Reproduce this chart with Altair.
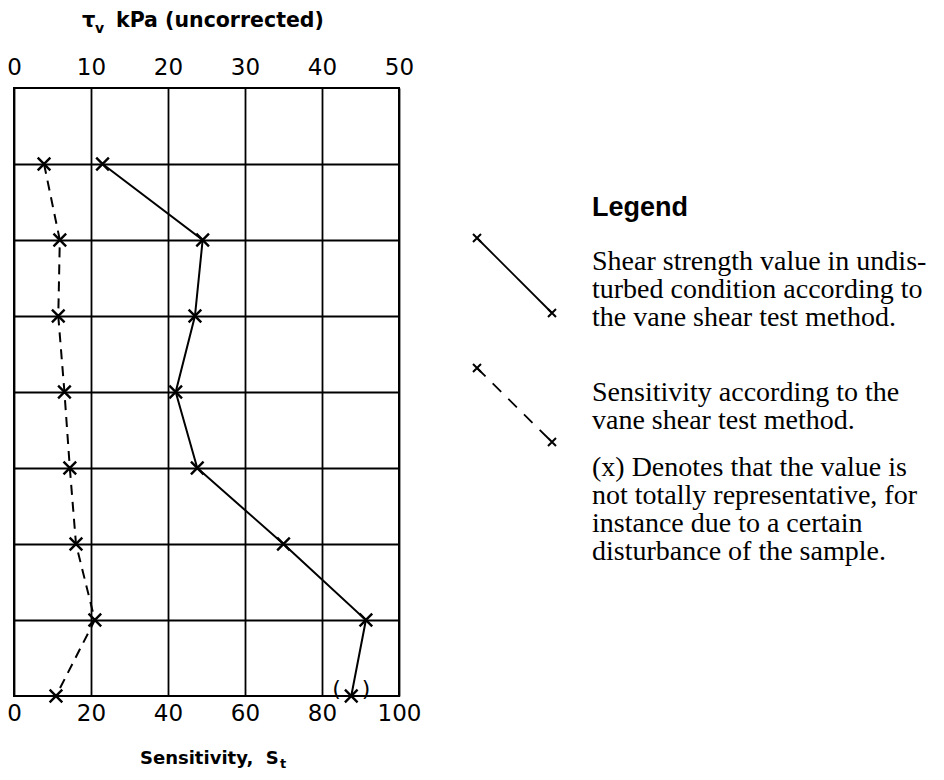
import altair as alt
import pandas as pd

# ---- data ----
depth = [1, 2, 3, 4, 5, 6, 7, 8]
shear_kpa = [11.5, 24.5, 23.5, 21.0, 23.8, 35.0, 45.7, 43.8]
sensitivity = [7.8, 11.9, 11.5, 13.1, 14.5, 16.1, 21.0, 10.9]
not_representative = [False, False, False, False, False, False, False, True]
kpa_ticks = [0, 10, 20, 30, 40, 50]
st_ticks = [0, 20, 40, 60, 80, 100]
row_lines = [1, 2, 3, 4, 5, 6, 7]

legend_title = "Legend"
legend_para1 = ["Shear strength value in undis-", "turbed condition according to", "the vane shear test method."]
legend_para2 = ["Sensitivity according to the", "vane shear test method."]
legend_para3 = ["(x) Denotes that the value is", "not totally representative, for",
                "instance due to a certain", "disturbance of the sample."]

W, H = 385, 608
OX, OY = 14, 88  # plot origin in page pixels

def px(x):
    return x - OX

def py(y):
    return y - OY

df = pd.DataFrame({"depth": depth, "kpa": shear_kpa, "st": sensitivity, "flag": not_representative})

CROSS = "M-1,-1L1,1M-1,1L1,-1"
SANS = "DejaVu Sans"
SERIF = "Liberation Serif"
NB = "\u00a0"

yscale = alt.Scale(domain=[0, 8], reverse=True, nice=False)
yaxis = alt.Axis(values=row_lines, grid=True, gridColor="black", gridWidth=1.8, gridOpacity=1,
                 labels=False, ticks=False, domain=False, title=None)

xk = alt.X("kpa:Q", scale=alt.Scale(domain=[0, 50], nice=False),
           axis=alt.Axis(orient="top", values=kpa_ticks, grid=True, gridColor="black", gridWidth=1.8,
                         gridOpacity=1, ticks=False, tickSize=0, domain=False, labelFont=SANS,
                         labelFontSize=23, labelColor="black", labelPadding=9, title=None,
                         labelFlush=False))
xs = alt.X("st:Q", scale=alt.Scale(domain=[0, 100], nice=False),
           axis=alt.Axis(orient="bottom", values=st_ticks, grid=False, ticks=False, tickSize=0,
                         domain=False, labelFont=SANS, labelFontSize=23, labelColor="black",
                         labelPadding=6, title=None, labelFlush=False))
y = alt.Y("depth:Q", scale=yscale, axis=yaxis)
order = alt.Order("depth:Q")

base = alt.Chart(df)

shear_line = base.mark_line(color="black", strokeWidth=2).encode(x=xk, y=y, order=order)
shear_pts = base.mark_point(shape=CROSS, size=160, stroke="black", strokeWidth=2.4,
                            filled=False, opacity=1).encode(x=xk, y=y)
paren = base.mark_text(text="(" + NB * 3 + ")", font=SANS, fontSize=22, color="black", dy=-7).encode(
    x=xk, y=y).transform_filter("datum.flag")

kpa_layer = alt.layer(shear_line, shear_pts, paren)

st_line = base.mark_line(color="black", strokeWidth=2, strokeDash=[10, 7]).encode(x=xs, y=y, order=order)
st_pts = base.mark_point(shape=CROSS, size=160, stroke="black", strokeWidth=2.4,
                         filled=False, opacity=1).encode(x=xs, y=y)
st_layer = alt.layer(st_line, st_pts)

# ---- annotations (titles, legend) ----
ann = []
def text(t, x, y, size, font=SANS, weight="bold", align="left", lh=None):
    kw = dict(text=t, font=font, fontSize=size, fontWeight=weight, align=align,
              baseline="alphabetic", color="black")
    if lh:
        kw["lineHeight"] = lh
    return alt.Chart(df).mark_text(**kw).encode(x=alt.value(px(x)), y=alt.value(py(y))).transform_filter("datum.depth == 1")

ann.append(text("τ", 82, 27, 21))
ann.append(text("v", 95, 33, 14))
ann.append(text("kPa (uncorrected)", 116, 27, 20.5))
ann.append(text("Sensitivity," + NB + NB + "S", 140, 764, 18))
ann.append(text("t", 280, 768, 13))
ann.append(text(legend_title, 592, 216, 27, font="Liberation Sans"))
ann.append(text(legend_para1, 592, 270, 28, font=SERIF, weight="normal", lh=28))
ann.append(text(legend_para2, 592, 401, 28, font=SERIF, weight="normal", lh=28))
ann.append(text(legend_para3, 592, 476, 28, font=SERIF, weight="normal", lh=28))

def seg(x1, y1, x2, y2, dash=None):
    kw = dict(color="black", strokeWidth=1.8)
    if dash:
        kw["strokeDash"] = dash
    return alt.Chart(df).mark_rule(**kw).encode(
        x=alt.value(px(x1)), y=alt.value(py(y1)), x2=alt.value(px(x2)), y2=alt.value(py(y2))
    ).transform_filter("datum.depth == 1")

def mk(x, y):
    return alt.Chart(df).mark_point(shape=CROSS, size=64, stroke="black", strokeWidth=2,
                                    filled=False, opacity=1).encode(
        x=alt.value(px(x)), y=alt.value(py(y))).transform_filter("datum.depth == 1")

ann += [seg(477, 238, 552, 313), mk(477, 238), mk(552, 313),
        seg(477, 368, 552, 442, dash=[12, 10]), mk(477, 368), mk(552, 442)]

chart = alt.layer(kpa_layer, st_layer, *ann).resolve_scale(x="independent").properties(
    width=W, height=H,
    background="white",
    autosize=alt.AutoSizeParams(type="none"),
    padding={"left": 6, "top": 80, "right": 536, "bottom": 76},
).configure_view(stroke="black", strokeWidth=2)

chart.save("out.html", embed_options={"renderer": "svg", "actions": False})
